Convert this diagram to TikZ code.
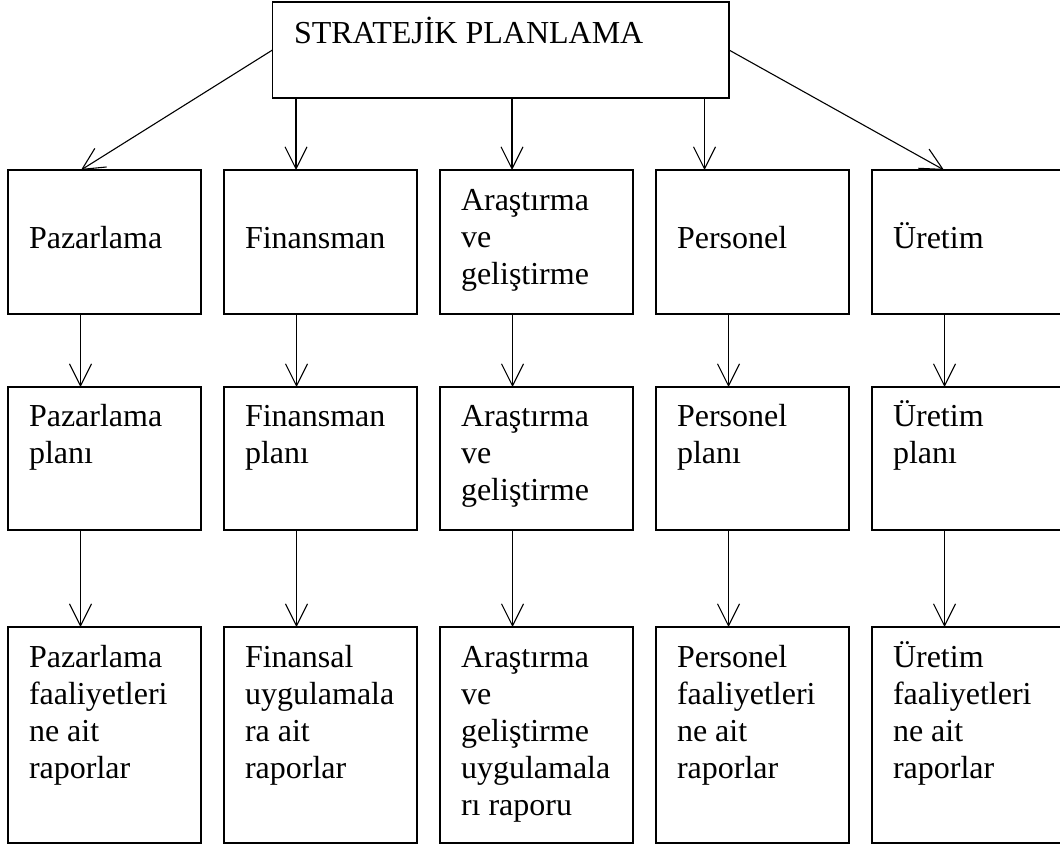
\documentclass[tikz,border=0pt]{standalone}
\usepackage{fontspec}
\setmainfont{Liberation Serif}
\usetikzlibrary{arrows.meta}
% multi-line text whose baseline is that of its first line
\newcommand\ml[1]{\vtop{\halign{##\hfil\cr#1\crcr}}}
\begin{document}
\begin{tikzpicture}[x=1pt,y=-1pt,
  box/.style={draw, line width=1.1pt, rectangle, inner sep=0pt, outer sep=0pt,
              minimum width=193pt, anchor=north west},
  txt/.style={anchor=base west, inner sep=0pt, outer sep=0pt,
              font=\fontsize{32}{37}\selectfont},
  arr/.style={line width=1.1pt, -{Straight Barb[length=22pt,width=22pt]}}]
\useasboundingbox (0,0) rectangle (1060,846);
\clip (0,0) rectangle (1060,846);

% top box
\node[box, minimum width=456.5pt, minimum height=96pt] (top) at (272.5,2) {};
\node[txt] (topt) at (294,43) {STRATEJİK PLANLAMA};

% first row: departments
\node[box, minimum height=144pt] (pz1) at (8,170) {};
\node[box, minimum height=144pt] (fn1) at (224,170) {};
\node[box, minimum height=144pt] (ar1) at (440,170) {};
\node[box, minimum height=144pt] (pr1) at (656,170) {};
\node[box, minimum height=144pt] (ur1) at (872,170) {};
\node[txt] (pz1t) at (29,248) {Pazarlama};
\node[txt] (fn1t) at (245,248) {Finansman};
\node[txt] (ar1t) at (461,210) {\ml{Araştırma\cr ve\cr geliştirme}};
\node[txt] (pr1t) at (677,248) {Personel};
\node[txt] (ur1t) at (893,248) {Üretim};

% second row: plans
\node[box, minimum height=143pt] (pz2) at (8,387) {};
\node[box, minimum height=143pt] (fn2) at (224,387) {};
\node[box, minimum height=143pt] (ar2) at (440,387) {};
\node[box, minimum height=143pt] (pr2) at (656,387) {};
\node[box, minimum height=143pt] (ur2) at (872,387) {};
\node[txt] (pz2t) at (29,426) {\ml{Pazarlama\cr planı}};
\node[txt] (fn2t) at (245,426) {\ml{Finansman\cr planı}};
\node[txt] (ar2t) at (461,426) {\ml{Araştırma\cr ve\cr geliştirme}};
\node[txt] (pr2t) at (677,426) {\ml{Personel\cr planı}};
\node[txt] (ur2t) at (893,426) {\ml{Üretim\cr planı}};

% third row: reports
\node[box, minimum height=216pt] (pz3) at (8,627) {};
\node[box, minimum height=216pt] (fn3) at (224,627) {};
\node[box, minimum height=216pt] (ar3) at (440,627) {};
\node[box, minimum height=216pt] (pr3) at (656,627) {};
\node[box, minimum height=216pt] (ur3) at (872,627) {};
\node[txt] (pz3t) at (29,667) {\ml{Pazarlama\cr faaliyetleri\cr ne ait\cr raporlar}};
\node[txt] (fn3t) at (245,667) {\ml{Finansal\cr uygulamala\cr ra ait\cr raporlar}};
\node[txt] (ar3t) at (461,667) {\ml{Araştırma\cr ve\cr geliştirme\cr uygulamala\cr rı raporu}};
\node[txt] (pr3t) at (677,667) {\ml{Personel\cr faaliyetleri\cr ne ait\cr raporlar}};
\node[txt] (ur3t) at (893,667) {\ml{Üretim\cr faaliyetleri\cr ne ait\cr raporlar}};

% arrows from the top box
\draw[arr] (top.west) -- ([xshift=73pt]pz1.north west);
\draw[arr] ([xshift=72pt]fn1.north west |- top.south) -- ([xshift=72pt]fn1.north west);
\draw[arr] ([xshift=72pt]ar1.north west |- top.south) -- ([xshift=72pt]ar1.north west);
\draw[arr] ([xshift=48.5pt]pr1.north west |- top.south) -- ([xshift=48.5pt]pr1.north west);
\draw[arr] (top.east) -- ([xshift=72pt]ur1.north west);

% arrows down each column
\foreach \c in {pz,fn,ar,pr,ur}{
  \draw[arr] ([xshift=72.5pt]\c1.south west) -- ([xshift=72.5pt]\c2.north west);
  \draw[arr] ([xshift=72.5pt]\c2.south west) -- ([xshift=72.5pt]\c3.north west);
}
\end{tikzpicture}
\end{document}
